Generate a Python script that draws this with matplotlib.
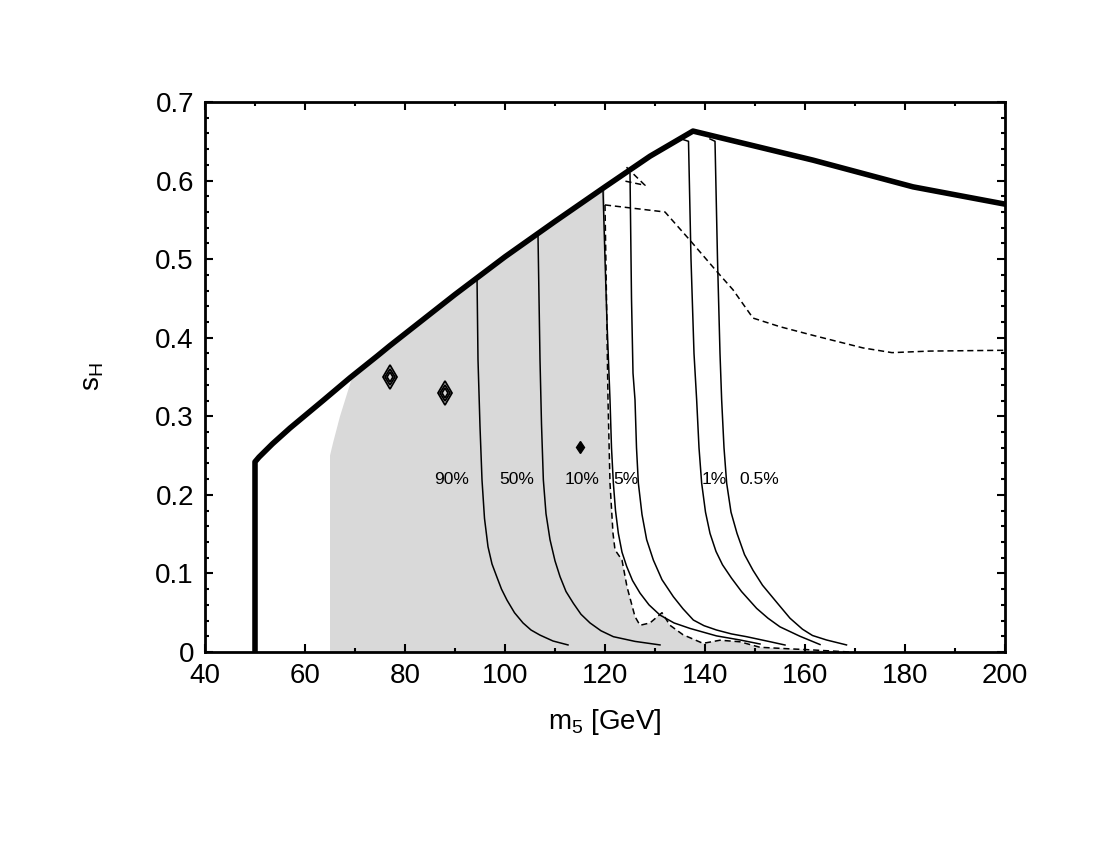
import matplotlib
matplotlib.use("Agg")
import matplotlib.pyplot as plt
import numpy as np

plt.rcParams['font.family'] = ['Liberation Sans', 'DejaVu Sans']
plt.rcParams['mathtext.fontset'] = 'custom'
plt.rcParams['mathtext.rm'] = 'Liberation Sans'
plt.rcParams['mathtext.it'] = 'Liberation Sans'

# thick outer boundary of the allowed region
boundary_x = [50.0, 50.0, 50.8, 53.5, 57.0, 63.6, 69.0, 74.5, 77.0, 80.0, 85.0, 90.0, 100.0, 110.0, 120.0, 129.0, 137.6, 161.6, 181.6, 200.0]
boundary_y = [0.0, 0.242, 0.248, 0.265, 0.285, 0.320, 0.349, 0.377, 0.390, 0.405, 0.430, 0.455, 0.503, 0.548, 0.592, 0.631, 0.663, 0.626, 0.592, 0.570]

# shaded region (left edge)
shade_left_x = [65.0, 65.0, 65.6, 67.0, 69.5]
shade_left_y = [0.0, 0.250, 0.266, 0.300, 0.351]

# dashed exclusion line (lower branch, bounds shading)
dash_x = [120.0, 120.0, 120.3, 120.6, 121.0, 121.6, 122.0, 123.4, 124.4, 126.0, 127.0, 129.0, 131.4, 133.0, 135.6, 139.6, 143.0, 147.0, 151.0, 157.0, 160.4, 169.0]
dash_y = [0.592, 0.569, 0.450, 0.321, 0.215, 0.151, 0.130, 0.117, 0.083, 0.045, 0.034, 0.037, 0.050, 0.034, 0.022, 0.011, 0.015, 0.013, 0.006, 0.004, 0.003, 0.0]
# dashed line (upper branch)
dash_up_x = [120.0, 132.0, 137.0, 142.4, 145.6, 149.6, 155.0, 161.6, 171.6, 177.4, 185.0, 200.0]
dash_up_y = [0.569, 0.560, 0.524, 0.484, 0.461, 0.425, 0.414, 0.403, 0.387, 0.381, 0.383, 0.384]
# small dashed loop near the top
dash_loop_x = [124.3, 128.0, 123.5]
dash_loop_y = [0.617, 0.594, 0.600]

# solid contour lines
c90_x = [94.4, 94.6, 95.0, 95.4, 95.9, 96.6, 97.4, 98.4, 99.3, 100.4, 101.9, 103.6, 105.2, 107.0, 109.6, 112.6]
c90_y = [0.478, 0.372, 0.287, 0.219, 0.170, 0.134, 0.112, 0.095, 0.080, 0.066, 0.050, 0.037, 0.028, 0.0215, 0.014, 0.009]
c50_x = [106.6, 107.0, 107.3, 107.67, 108.2, 109.0, 110.0, 111.0, 112.2, 113.67, 115.2, 117.0, 119.2, 121.67, 126.0, 131.0]
c50_y = [0.530, 0.372, 0.290, 0.219, 0.176, 0.143, 0.116, 0.096, 0.077, 0.062, 0.048, 0.037, 0.027, 0.0195, 0.0135, 0.009]
c10_x = [119.6, 120.0, 120.4, 121.0, 121.3, 121.67, 122.1, 122.67, 123.4, 124.33, 125.5, 127.0, 128.8, 131.0, 133.8, 137.0, 142.3, 147.0, 151.0]
c10_y = [0.588, 0.500, 0.420, 0.321, 0.260, 0.215, 0.180, 0.151, 0.127, 0.109, 0.091, 0.075, 0.060, 0.047, 0.037, 0.030, 0.0205, 0.0153, 0.0102]
c5_x = [125.0, 125.3, 125.6, 126.0, 126.3, 126.67, 127.4, 128.33, 129.67, 131.4, 133.67, 135.6, 137.67, 139.8, 142.3, 145.3, 148.3, 153.0, 156.0]
c5_y = [0.609, 0.450, 0.355, 0.321, 0.260, 0.215, 0.175, 0.143, 0.117, 0.092, 0.0704, 0.055, 0.0407, 0.0335, 0.028, 0.023, 0.0195, 0.0131, 0.0089]
c1_x = [135.7, 136.7, 137.2, 137.8, 138.33, 138.8, 139.33, 140.1, 141.0, 142.2, 143.5, 145.3, 147.3, 150.33, 152.6, 155.0, 159.0, 163.0]
c1_y = [0.652, 0.650, 0.500, 0.380, 0.321, 0.260, 0.215, 0.178, 0.151, 0.128, 0.111, 0.094, 0.077, 0.0555, 0.043, 0.032, 0.020, 0.0095]
c05_x = [141.0, 142.0, 142.5, 143.0, 143.33, 143.8, 144.33, 145.2, 146.4, 147.9, 149.6, 151.5, 154.5, 157.0, 159.5, 161.5, 164.3, 168.3]
c05_y = [0.653, 0.650, 0.500, 0.380, 0.321, 0.260, 0.215, 0.178, 0.151, 0.124, 0.104, 0.085, 0.062, 0.043, 0.029, 0.021, 0.0153, 0.009]

# contour labels
label_text = ['90%', '50%', '10%', '5%', '1%', '0.5%']
label_x = [89.4, 102.4, 115.4, 124.2, 141.8, 150.8]
label_y = [0.219, 0.219, 0.219, 0.219, 0.219, 0.219]

# local maxima markers
peak_x = [77.0, 88.0]
peak_y = [0.350, 0.330]
small_x = [115.0]
small_y = [0.261]

fig = plt.figure(figsize=(11, 8.5), dpi=100)
ax = fig.add_axes([205/1100, 1-652/850, 800/1100, 550/850])

# shading
i0 = next(i for i, x in enumerate(boundary_x) if x > 69.5)
i1 = next(i for i, x in enumerate(boundary_x) if x >= 120.0)
poly_x = shade_left_x + boundary_x[i0:i1] + dash_x
poly_y = shade_left_y + boundary_y[i0:i1] + dash_y
ax.fill(poly_x, poly_y, color='#d9d9d9', lw=0, zorder=1)

for cx, cy in [(c90_x, c90_y), (c50_x, c50_y), (c10_x, c10_y), (c5_x, c5_y), (c1_x, c1_y), (c05_x, c05_y)]:
    ax.plot(cx, cy, color='black', lw=1.1, zorder=3)

dash_style = (0, (4, 2.5))
ax.plot(dash_x[1:], dash_y[1:], color='black', lw=1.1, ls=dash_style, zorder=3)
ax.plot(dash_up_x, dash_up_y, color='black', lw=1.1, ls=dash_style, zorder=3)
ax.plot(dash_loop_x, dash_loop_y, color='black', lw=1.1, ls=dash_style, zorder=3)

ax.plot(boundary_x, boundary_y, color='black', lw=4.0, solid_joinstyle='round', zorder=4)

for ms in [12, 8.5, 5]:
    ax.plot(peak_x, peak_y, ls='none', marker='d', ms=ms, mfc='none', mec='black', mew=1.3, zorder=4)
ax.plot(small_x, small_y, ls='none', marker='d', ms=6, mfc='black', mec='black', zorder=4)

for t, x, y in zip(label_text, label_x, label_y):
    ax.text(x, y, t, ha='center', va='center', fontsize=12.5, zorder=5)

ax.set_xlim(40, 200)
ax.set_ylim(0, 0.7)
ax.set_xticks(np.arange(40, 201, 20))
ax.set_xticks(np.arange(40, 201, 10), minor=True)
ax.set_yticks(np.round(np.arange(0, 0.71, 0.1), 1))
ax.set_yticks(np.arange(0, 0.701, 0.02), minor=True)
ax.set_yticklabels(['0', '0.1', '0.2', '0.3', '0.4', '0.5', '0.6', '0.7'])
ax.tick_params(which='both', direction='in', top=True, right=True, labelsize=20, width=1.5)
ax.tick_params(which='major', length=6, pad=8)
ax.tick_params(which='minor', length=3)
for s in ax.spines.values():
    s.set_linewidth(2)

ax.set_xlabel('m$_5$ [GeV]', fontsize=20)
ax.set_ylabel('s$_\\mathrm{H}$', fontsize=20)
ax.xaxis.set_label_coords(0.5, -0.100)
ax.yaxis.set_label_coords(-0.124, 0.5)

fig.savefig('out.png', dpi=100)
